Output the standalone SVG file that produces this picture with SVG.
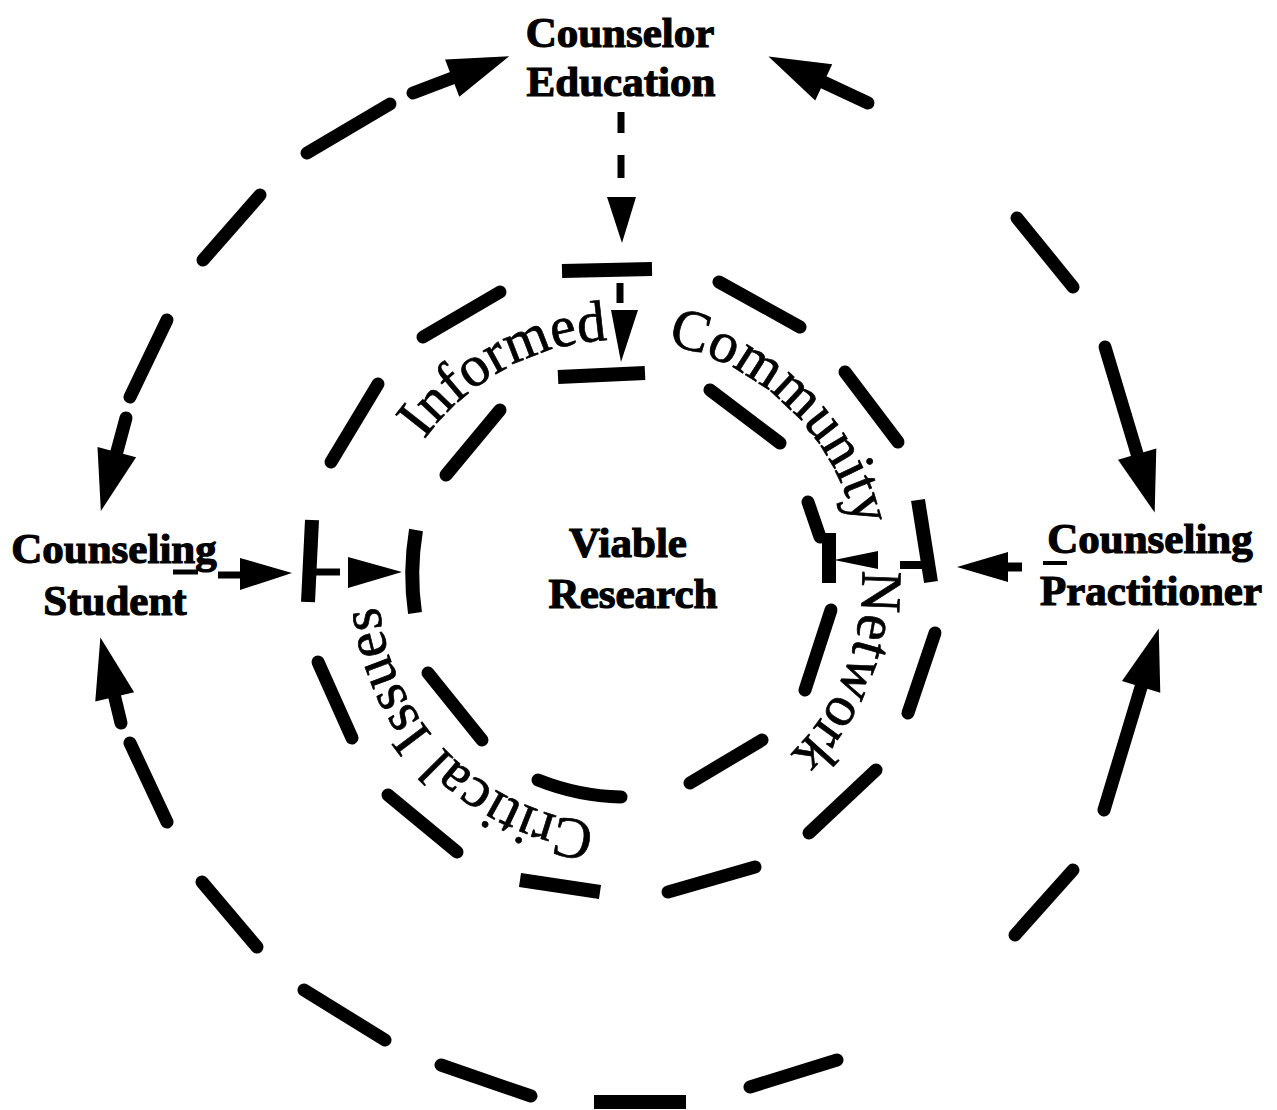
<svg xmlns="http://www.w3.org/2000/svg" xmlns:xlink="http://www.w3.org/1999/xlink" width="1277" height="1110" viewBox="0 0 1277 1110">
<style>
.bold{font-family:"Liberation Serif","Times New Roman",serif;font-weight:bold;font-size:43px;fill:#000;text-anchor:middle;stroke:#000;stroke-width:1.2}
.arc{font-family:"Liberation Serif","Times New Roman",serif;font-size:58px;fill:#000;text-anchor:middle;stroke:#000;stroke-width:0.7}
.d{stroke:#000;stroke-width:13;stroke-linecap:round;fill:none}
.bar{stroke:#000;stroke-width:14;stroke-linecap:butt;fill:none}
.t{stroke:#000;stroke-width:7;stroke-linecap:butt;fill:none}
.h{fill:#000}
</style>
<defs>
<marker id="big" markerUnits="userSpaceOnUse" orient="auto" overflow="visible" refX="0" refY="0" markerWidth="1" markerHeight="1">
<path d="M-3,-20 L58,0 L-3,20 z" fill="#000"/>
</marker>
<path id="txtcircle" d="M620,340 A242,242 0 1 1 620,824 A242,242 0 1 1 620,340"/>
</defs>
<rect width="1277" height="1110" fill="#fff"/>

<g id="outer-ring">
<line class="d" x1="307" y1="153" x2="390" y2="104"/>
<line class="d" x1="203" y1="260" x2="260" y2="195"/>
<line class="d" x1="130" y1="397" x2="167" y2="320"/>
<line class="d" x1="130" y1="743" x2="167" y2="822"/>
<line class="d" x1="202" y1="882" x2="257" y2="947"/>
<line class="d" x1="304" y1="990" x2="385" y2="1040"/>
<line class="d" x1="441" y1="1065" x2="531" y2="1096"/>
<line class="bar" x1="594" y1="1102" x2="686" y2="1102"/>
<line class="d" x1="750" y1="1087" x2="837" y2="1060"/>
<line class="d" x1="1015" y1="935" x2="1073" y2="870"/>
<line class="d" x1="1017" y1="218" x2="1073" y2="287"/>
</g>

<g id="middle-ring">
<line class="bar" x1="562" y1="271" x2="652" y2="269"/>
<line class="d" x1="423" y1="337" x2="500" y2="292"/>
<line class="d" x1="331" y1="462" x2="378" y2="384"/>
<line class="bar" x1="312" y1="520" x2="308" y2="602"/>
<line class="d" x1="318" y1="662" x2="352" y2="738"/>
<line class="d" x1="388" y1="795" x2="457" y2="852"/>
<line class="bar" x1="520" y1="880" x2="600" y2="892"/>
<line class="d" x1="668" y1="892" x2="755" y2="867"/>
<line class="d" x1="809" y1="833" x2="876" y2="770"/>
<line class="d" x1="908" y1="713" x2="935" y2="633"/>
<line class="bar" x1="918" y1="500" x2="931" y2="582"/>
<line class="d" x1="845" y1="372" x2="898" y2="442"/>
<line class="d" x1="719" y1="282" x2="800" y2="327"/>
</g>

<g id="inner-ring">
<line class="bar" x1="558" y1="377" x2="645" y2="373"/>
<line class="d" x1="710" y1="390" x2="780" y2="443"/>
<line class="d" x1="808" y1="502" x2="820" y2="537"/>
<line class="bar" x1="829" y1="533" x2="829" y2="583"/>
<line class="d" x1="805" y1="690" x2="831" y2="610"/>
<line class="d" x1="690" y1="783" x2="762" y2="740"/>
<path class="d" d="M538,780 Q578,796 621,797"/>
<line class="d" x1="428" y1="673" x2="482" y2="740"/>
<path class="bar" d="M416,530 Q409,572 415,613"/>
<line class="d" x1="446" y1="475" x2="500" y2="410"/>
</g>

<g id="connectors">
<line class="d" x1="413" y1="93" x2="455" y2="77" marker-end="url(#big)"/>
<line class="d" x1="868" y1="103" x2="821" y2="81" marker-end="url(#big)"/>
<line class="d" x1="126" y1="418" x2="116" y2="455" marker-end="url(#big)"/>
<line class="d" x1="121" y1="723" x2="114" y2="694" marker-end="url(#big)"/>
<line class="d" x1="1105" y1="347" x2="1138" y2="457" marker-end="url(#big)"/>
<line class="d" x1="1104" y1="810" x2="1142" y2="684" marker-end="url(#big)"/>
<line class="t" x1="621" y1="112" x2="621" y2="133"/>
<line class="t" x1="621" y1="155" x2="621" y2="178"/>
<polygon class="h" points="607,197 636,197 622,243"/>
<line class="t" x1="620" y1="283" x2="620" y2="303"/>
<polygon class="h" points="611,310 638,310 621,362"/>
<line class="t" x1="173" y1="572" x2="198" y2="572" style="stroke-width:5"/>
<line class="t" x1="218" y1="575" x2="242" y2="575"/>
<polygon class="h" points="240,558 240,590 292,573"/>
<line class="t" x1="315" y1="572" x2="340" y2="572"/>
<polygon class="h" points="348,557 348,588 402,572"/>
<line class="t" x1="1043" y1="563" x2="1067" y2="563" style="stroke-width:4"/>
<line class="t" x1="1000" y1="567" x2="1022" y2="567" style="stroke-width:9"/>
<polygon class="h" points="957,567 1008,552 1008,582"/>
<line class="t" x1="900" y1="565" x2="923" y2="565" style="stroke-width:8"/>
<polygon class="h" points="834,560 878,551 878,569"/>
</g>

<g id="ring-labels">
<text class="arc"><textPath xlink:href="#txtcircle" href="#txtcircle" startOffset="1400">Informed</textPath></text>
<text class="arc"><textPath xlink:href="#txtcircle" href="#txtcircle" startOffset="186">Community</textPath></text>
<text class="arc"><textPath xlink:href="#txtcircle" href="#txtcircle" startOffset="470">Network</textPath></text>
<text class="arc"><textPath xlink:href="#txtcircle" href="#txtcircle" startOffset="872">Critical</textPath></text>
<text class="arc"><textPath xlink:href="#txtcircle" href="#txtcircle" startOffset="1045">Issues</textPath></text>
</g>

<g id="counselor-education">
<text class="bold" x="620" y="47">Counselor</text>
<text class="bold" x="621" y="96">Education</text>
</g>
<g id="counseling-student">
<text class="bold" x="114" y="563">Counseling</text>
<text class="bold" x="115" y="615">Student</text>
</g>
<g id="counseling-practitioner">
<text class="bold" x="1150" y="553">Counseling</text>
<text class="bold" x="1151" y="605">Practitioner</text>
</g>
<g id="viable-research">
<text class="bold" x="628" y="557">Viable</text>
<text class="bold" x="633" y="608">Research</text>
</g>
</svg>
